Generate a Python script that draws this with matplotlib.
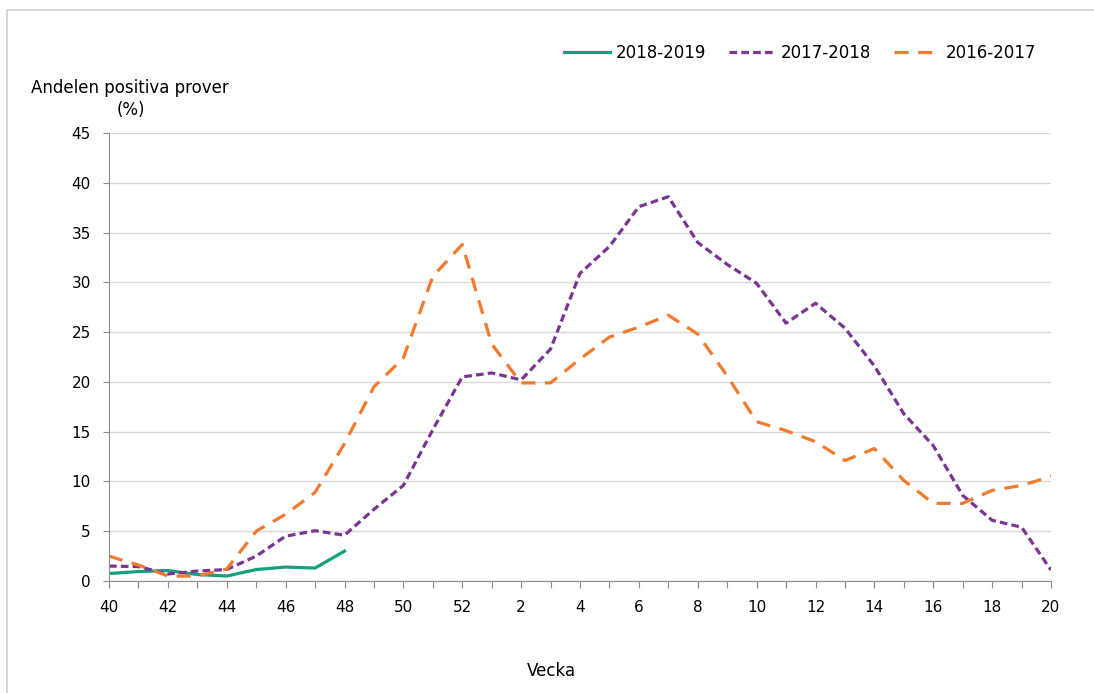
import numpy as np
import matplotlib.pyplot as plt
from matplotlib.patches import Rectangle

# Veckor 40-52 och 1-20
weeks = list(range(40, 53)) + list(range(1, 21))

season_1819 = [0.75, 0.95, 1.05, 0.65, 0.5, 1.15, 1.4, 1.3, 3.0]
season_1718 = [1.5, 1.45, 0.7, 1.0, 1.15, 2.5, 4.5, 5.05, 4.6, 7.2, 9.6, 15.2, 20.5,
               20.9, 20.2, 23.3, 30.9, 33.6, 37.6, 38.6, 34.0, 31.8, 29.9, 25.9, 27.9,
               25.4, 21.6, 16.8, 13.6, 8.6, 6.1, 5.4, 1.1]
season_1617 = [2.5, 1.6, 0.5, 0.5, 1.2, 5.0, 6.7, 8.9, 13.8, 19.5, 22.4, 30.6, 33.8,
               23.8, 19.9, 19.9, 22.3, 24.5, 25.5, 26.7, 24.8, 20.6, 16.0, 15.1, 14.0,
               12.1, 13.3, 10.1, 7.8, 7.8, 9.1, 9.6, 10.5]

x = np.arange(len(weeks))

fig = plt.figure(figsize=(10.94, 6.93), dpi=100)
ax = fig.add_axes([109 / 1094, 1 - 581 / 693, (1051 - 109) / 1094, (581 - 133) / 693])

ax.plot(x[:len(season_1819)], season_1819, color='#12A07E', lw=2.3, label='2018-2019')
ax.plot(x, season_1718, color='#7B3590', lw=2.3, dashes=(2.4, 1.3), label='2017-2018')
ax.plot(x, season_1617, color='#F27A2E', lw=2.3, dashes=(4.4, 3.0), label='2016-2017')

ax.set_xlim(0, len(weeks) - 1)
ax.set_ylim(0, 45)
ax.set_yticks(range(0, 46, 5))
ax.set_xticks(x)
ax.set_xticklabels([str(w) if i % 2 == 0 else '' for i, w in enumerate(weeks)])
ax.grid(axis='y', color='#D9D9D9', lw=1)
ax.set_axisbelow(True)
for s in ['top', 'right']:
    ax.spines[s].set_visible(False)
for s in ['left', 'bottom']:
    ax.spines[s].set_color('#8C8C8C')
ax.tick_params(axis='both', colors='#8C8C8C', labelcolor='black', labelsize=11)
ax.tick_params(axis='x', length=5, pad=9)
ax.tick_params(axis='y', length=4, pad=9)

fig.text(130 / 1094, 1 - 88 / 693, 'Andelen positiva prover', ha='center', va='center', fontsize=12)
fig.text(131 / 1094, 1 - 110 / 693, '(%)', ha='center', va='center', fontsize=12)
fig.text(551 / 1094, 1 - 671 / 693, 'Vecka', ha='center', va='center', fontsize=12)

ax.legend(loc='center', bbox_to_anchor=(800 / 1094, 1 - 53 / 693), bbox_transform=fig.transFigure,
          ncol=3, frameon=False, fontsize=12, handlelength=2.8, columnspacing=1.4, handletextpad=0.3)

fig.patches.append(Rectangle((7 / 1094, -0.1), 1.2, (683 / 693) + 0.1, transform=fig.transFigure,
                             fill=False, edgecolor='#D0D0D0', lw=1.2))

plt.savefig('out.png', dpi=100)
